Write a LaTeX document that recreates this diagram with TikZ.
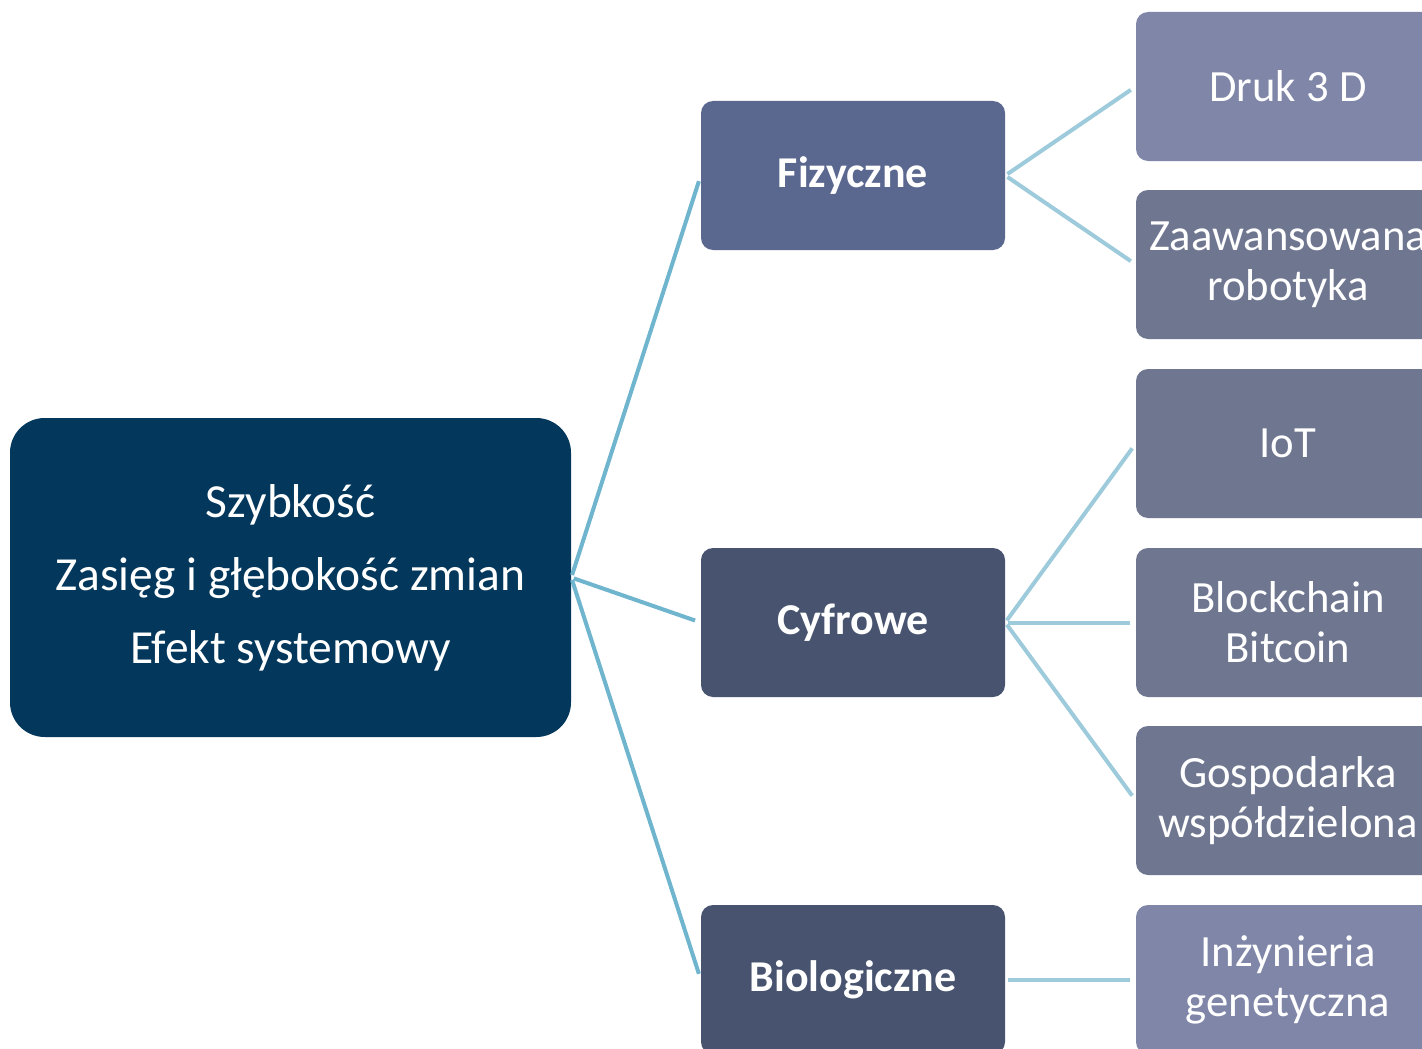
\documentclass[tikz,border=0pt]{standalone}
\usepackage{fontspec}
\setmainfont{Carlito}
\definecolor{mainbg}{HTML}{03375B}
\definecolor{fizbg}{HTML}{5A678F}
\definecolor{midbg}{HTML}{48546F}
\definecolor{lightch}{HTML}{7F86A8}
\definecolor{darkch}{HTML}{6E7690}
\definecolor{lineA}{HTML}{6FB5CE}
\definecolor{lineB}{HTML}{9DCBDB}
\begin{document}
\begin{tikzpicture}[x=0.75pt,y=-0.75pt,
  mainbox/.style={rectangle, rounded corners=26pt, fill=mainbg, text=white, minimum width=561*0.75pt, minimum height=319*0.75pt, align=center, inner sep=0pt, font=\fontsize{35.6pt}{54.75pt}\selectfont},
  midbox/.style={rectangle, rounded corners=9pt, text=white, minimum width=304*0.75pt, minimum height=149*0.75pt, align=center, inner sep=0pt, font=\fontsize{33pt}{40pt}\selectfont\bfseries},
  childbox/.style={rectangle, rounded corners=9pt, text=white, minimum width=304*0.75pt, minimum height=149*0.75pt, align=center, inner sep=0pt, font=\fontsize{33.5pt}{37.5pt}\selectfont},
  linkA/.style={draw=lineA, line width=3pt, shorten <=2pt, shorten >=4.5pt},
  linkB/.style={draw=lineB, line width=3pt, shorten <=2pt, shorten >=4.5pt}]
\useasboundingbox (0,0) rectangle (1422,1049);
\fill[white] (0,0) rectangle (1422,1049);
\node[mainbox] (main) at (290.5,577.5) {Szybkość\\Zasięg i głębokość zmian\\Efekt systemowy};
\node[midbox, fill=fizbg] (fiz) at (853,175.5) {Fizyczne};
\node[midbox, fill=midbg] (cyf) at (853,622.5) {Cyfrowe};
\node[midbox, fill=midbg] (bio) at (853,979.5) {Biologiczne};
\node[childbox, fill=lightch] (druk) at (1288,86.5) {Druk 3 D};
\node[childbox, fill=darkch] (robo) at (1288,264.5) {Zaawansowana\\robotyka};
\node[childbox, fill=darkch] (iot) at (1288,443.5) {IoT};
\node[childbox, fill=darkch] (block) at (1288,622.5) {Blockchain\\Bitcoin};
\node[childbox, fill=darkch] (gosp) at (1288,800.5) {Gospodarka\\współdzielona};
\node[childbox, fill=lightch] (inz) at (1288,979.5) {Inżynieria\\genetyczna};
\draw[linkA] (main.east) -- (fiz.west);
\draw[linkA] (main.east) -- (cyf.west);
\draw[linkA] (main.east) -- (bio.west);
\draw[linkB] (fiz.east) -- (druk.west);
\draw[linkB] (fiz.east) -- (robo.west);
\draw[linkB] (cyf.east) -- (iot.west);
\draw[linkB] (cyf.east) -- (block.west);
\draw[linkB] (cyf.east) -- (gosp.west);
\draw[linkB] (bio.east) -- (inz.west);
\end{tikzpicture}
\end{document}
